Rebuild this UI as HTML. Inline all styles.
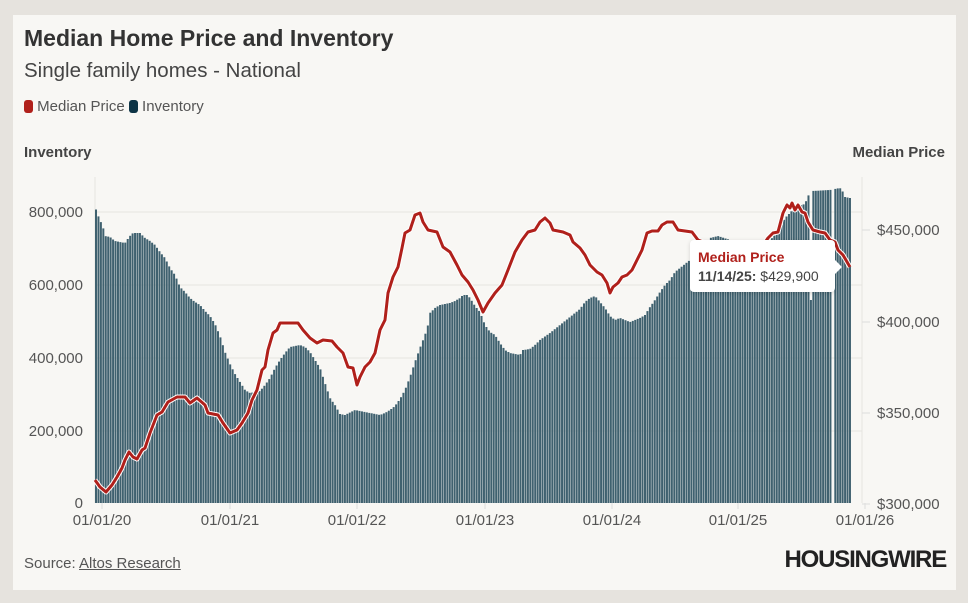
<!DOCTYPE html>
<html><head><meta charset="utf-8"><style>
html,body{margin:0;padding:0;background:#e6e3de;width:968px;height:603px;overflow:hidden}
#panel{position:absolute;left:13px;top:15px;width:943px;height:575px;background:#f8f7f4}
.t{position:absolute;font-family:"Liberation Sans",sans-serif;color:#333;white-space:nowrap}
</style></head><body>
<div id="panel"></div>
<div class="t" style="left:24px;top:25px;font-size:23px;font-weight:bold;color:#333">Median Home Price and Inventory</div>
<div class="t" style="left:24px;top:59px;font-size:20.5px;color:#444">Single family homes - National</div>
<div class="t" style="left:24px;top:98px;font-size:15px;color:#555"><span style="display:inline-block;width:9px;height:13px;background:#b0201b;border-radius:3px;vertical-align:-2px"></span> Median Price <span style="display:inline-block;width:9px;height:13px;background:#0d3446;border-radius:3px;vertical-align:-2px"></span> Inventory</div>
<div class="t" style="left:24px;top:144px;font-size:15px;font-weight:bold;color:#444">Inventory</div>
<div class="t" style="right:23px;top:144px;font-size:15px;font-weight:bold;color:#444">Median Price</div>
<div class="t" style="left:24px;top:555px;font-size:15px;color:#555">Source: <span style="text-decoration:underline">Altos Research</span></div>
<div class="t" style="right:22px;top:546px;font-size:24px;font-weight:900;color:#222;font-family:'Liberation Sans Narrow','Liberation Sans',sans-serif;letter-spacing:-1.2px">HOUSINGWIRE</div>
<svg id="s" width="968" height="603" style="position:absolute;left:0;top:0" font-family="Liberation Sans, sans-serif"></svg>
<div style="position:absolute;left:690px;top:240px;width:145px;height:52px;background:#fff;border-radius:4px;box-shadow:0 1px 4px rgba(0,0,0,0.15)"></div>
<div style="position:absolute;left:834px;top:259px;width:0;height:0;border-top:8px solid transparent;border-bottom:8px solid transparent;border-left:8px solid #fff"></div>
<div class="t" style="left:698px;top:249px;font-size:14px;font-weight:bold;color:#b0201b">Median Price</div>
<div class="t" style="left:698px;top:268px;font-size:14px;color:#444"><b>11/14/25:</b> $429,900</div>
<script>
var s=document.getElementById('s'),h='';
[212,285,358,431].forEach(function(y){h+='<line x1="95" x2="862" y1="'+y+'" y2="'+y+'" stroke="#e6e4e0" stroke-width="1"/>';});
h+='<line x1="95" x2="95" y1="177" y2="503" stroke="#e6e4e0"/><line x1="862" x2="862" y1="177" y2="503" stroke="#e6e4e0"/>';
var inv=[[95,206],[97,213],[100,220],[103,227],[105,236],[110,237],[115,241],[120,242],[125,243],[127,240],[130,236],[133,233],[140,233],[145,238],[150,241],[155,245],[160,252],[165,258],[170,268],[175,275],[180,287],[185,292],[190,298],[195,302],[200,305],[205,311],[210,316],[215,324],[220,336],[225,352],[230,364],[235,374],[240,382],[245,390],[250,393],[260,391],[265,385],[270,378],[275,368],[280,360],[285,353],[290,347],[300,345],[305,347],[310,352],[315,360],[320,368],[325,383],[330,398],[335,405],[340,414],[345,415],[355,410],[380,415],[385,413],[390,410],[395,406],[400,399],[405,390],[410,377],[415,362],[420,348],[425,335],[428,325],[430,313],[435,308],[440,305],[450,303],[455,301],[460,298],[463,295],[467,295],[470,298],[475,306],[480,312],[485,325],[490,332],[495,335],[500,343],[505,350],[510,353],[520,355],[523,350],[530,349],[535,345],[540,340],[550,333],[560,325],[570,317],[580,309],[585,302],[590,298],[595,296],[600,302],[605,308],[610,316],[615,320],[620,318],[630,322],[640,318],[645,315],[650,307],[655,300],[660,292],[665,285],[670,280],[675,272],[680,268],[690,260],[695,252],[705,246],[710,238],[718,236],[730,240],[760,244],[770,240],[775,235],[780,228],[785,218],[790,213],[795,207],[805,204],[808,196],[812,191],[830,190],[840,188],[843,192],[845,197],[850,198]];
var pr=[[95,480],[100,487],[106,492],[112,485],[117,477],[122,468],[125,460],[129,452],[133,457],[137,459],[142,450],[145,448],[150,433],[157,415],[162,412],[168,402],[177,397],[185,397],[190,403],[197,398],[205,405],[208,413],[218,415],[223,423],[230,433],[237,430],[242,423],[248,413],[252,400],[257,390],[262,370],[265,367],[268,350],[273,333],[277,330],[280,323],[298,323],[303,330],[310,338],[317,343],[323,340],[332,341],[337,347],[343,353],[348,367],[353,368],[357,385],[360,377],[365,367],[370,362],[375,353],[380,330],[385,320],[388,293],[393,277],[398,267],[402,248],[405,233],[410,230],[415,215],[420,213],[423,222],[428,230],[437,232],[443,247],[450,252],[457,265],[462,275],[468,282],[473,290],[478,300],[483,312],[488,303],[495,293],[502,285],[508,270],[515,252],[522,240],[528,232],[535,230],[540,222],[545,218],[550,223],[553,230],[563,232],[570,235],[573,242],[580,248],[585,255],[590,265],[597,272],[602,275],[607,283],[610,293],[613,287],[618,283],[622,277],[627,275],[632,270],[637,260],[642,250],[647,233],[652,231],[658,231],[662,225],[667,222],[673,222],[678,230],[692,232],[698,240],[703,242],[730,270],[760,250],[768,238],[773,233],[778,232],[783,213],[787,205],[790,208],[792,203],[795,210],[798,205],[802,212],[805,213],[808,222],[813,230],[820,232],[825,233],[830,240],[835,242],[838,250],[843,255],[850,267]];
function interp(a,x){for(var i=1;i<a.length;i++){if(x<=a[i][0]){var p=a[i-1],q=a[i];return p[1]+(q[1]-p[1])*(x-p[0])/(q[0]-p[0]);}}return a[a.length-1][1];}
for(var x=95;x<=850;x+=2.44){var y=interp(inv,x+1);
 if(Math.abs(x-810)<1.3)y=300;
 if(Math.abs(x-833)<1.3)continue;
 h+='<rect x="'+x.toFixed(2)+'" y="'+y.toFixed(1)+'" width="2" height="'+(503-y).toFixed(1)+'" fill="#3f616f"/>';}
var pts=pr.map(function(p){return p[0]+','+p[1]}).join(' ');
h+='<polyline points="'+pts+'" fill="none" stroke="#fff" stroke-width="5" stroke-linejoin="round"/>';
h+='<polyline points="'+pts+'" fill="none" stroke="#b0201b" stroke-width="3" stroke-linejoin="round"/>';
[[212,'800,000'],[285,'600,000'],[358,'400,000'],[431,'200,000'],[503,'0']].forEach(function(a){h+='<text x="83" y="'+(a[0]+5)+'" text-anchor="end" font-size="15" fill="#555">'+a[1]+'</text>';});
[[230,'$450,000'],[322,'$400,000'],[413,'$350,000'],[504,'$300,000']].forEach(function(a){h+='<line x1="862" x2="870" y1="'+a[0]+'" y2="'+a[0]+'" stroke="#ddd"/><text x="877" y="'+(a[0]+5)+'" font-size="15" fill="#555">'+a[1]+'</text>';});
[[102,'01/01/20'],[230,'01/01/21'],[357,'01/01/22'],[485,'01/01/23'],[612,'01/01/24'],[738,'01/01/25'],[865,'01/01/26']].forEach(function(a){h+='<line x1="'+a[0]+'" x2="'+a[0]+'" y1="503" y2="509" stroke="#ddd"/><text x="'+a[0]+'" y="525" text-anchor="middle" font-size="15" fill="#555">'+a[1]+'</text>';});
s.innerHTML=h;
</script>
</body></html>
